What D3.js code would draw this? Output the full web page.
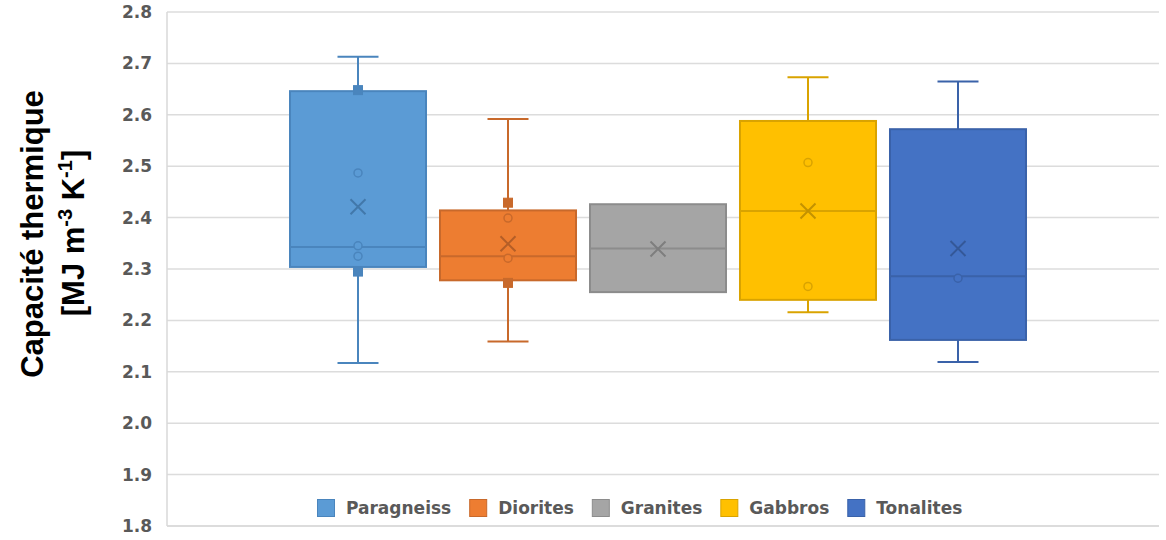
<!DOCTYPE html>
<html>
<head>
<meta charset="utf-8">
<script src="https://cdn.jsdelivr.net/npm/d3@7"></script>
<style>
  html, body { margin: 0; padding: 0; background: #ffffff; }
  svg { display: block; }
</style>
</head>
<body>
<svg id="chart" width="1166" height="540"></svg>
<script>
// Rock types and their box-plot statistics (volumetric heat capacity, MJ m-3 K-1)
const rockTypes    = ["Paragneiss", "Diorites", "Granites", "Gabbros", "Tonalites"];
const minValues    = [2.117, 2.159, 2.255, 2.216, 2.119];
const q1Values     = [2.304, 2.278, 2.255, 2.240, 2.162];
const medianValues = [2.343, 2.325, 2.340, 2.413, 2.286];
const q3Values     = [2.646, 2.414, 2.426, 2.588, 2.572];
const maxValues    = [2.713, 2.592, 2.426, 2.673, 2.665];
const meanValues   = [2.421, 2.349, 2.339, 2.413, 2.340];
// individual measurements drawn as hollow circles
const innerPoints  = [[2.487, 2.345, 2.325], [2.399, 2.321], [], [2.507, 2.266], [2.282]];
// measurements drawn as filled squares
const squarePoints = [[2.648, 2.295], [2.429, 2.273], [], [], []];
const yTicks       = [1.8, 1.9, 2.0, 2.1, 2.2, 2.3, 2.4, 2.5, 2.6, 2.7, 2.8];

const fillColors   = ["#5b9bd5", "#ed7d31", "#a5a5a5", "#ffc000", "#4472c4"];
const lineColors   = ["#4a85bd", "#c8692b", "#8c8c8c", "#d9a300", "#3a62a9"];

const svg = d3.select("#chart");
const plot = { left: 167, right: 1159, top: 12, bottom: 526 };

const y = d3.scaleLinear().domain([1.8, 2.8]).range([plot.bottom, plot.top]);
const x = d3.scaleBand().domain(rockTypes).range([283, 1033])
  .paddingInner(0.0933).paddingOuter(0.0467);

// horizontal gridlines
svg.append("g")
  .selectAll("line")
  .data(yTicks)
  .join("line")
  .attr("x1", plot.left).attr("x2", plot.right)
  .attr("y1", d => y(d)).attr("y2", d => y(d))
  .attr("stroke", "#dcdcdc").attr("stroke-width", 1.5);

// left axis line
svg.append("line")
  .attr("x1", plot.left).attr("x2", plot.left)
  .attr("y1", plot.top).attr("y2", plot.bottom)
  .attr("stroke", "#d9d9d9").attr("stroke-width", 1.5);

// y axis tick labels
const yAxis = d3.axisLeft(y).tickValues(yTicks).tickFormat(d3.format(".1f")).tickSize(0).tickPadding(15);
const yAxisG = svg.append("g").attr("transform", `translate(${plot.left},0)`).call(yAxis);
yAxisG.select(".domain").remove();
yAxisG.selectAll("text")
  .attr("fill", "#595959")
  .style("font-family", "'DejaVu Sans', sans-serif")
  .style("font-weight", "bold")
  .style("font-size", "17px");

// y axis title (two lines, rotated)
svg.append("text")
  .attr("transform", "translate(43,234) rotate(-90)")
  .attr("text-anchor", "middle")
  .style("font-family", "'Liberation Sans', Arial, sans-serif")
  .style("font-weight", "bold")
  .style("font-size", "31px")
  .attr("fill", "#000")
  .text("Capacité thermique");

const title2 = svg.append("text")
  .attr("transform", "translate(84,233) rotate(-90)")
  .attr("text-anchor", "middle")
  .style("font-family", "'Liberation Sans', Arial, sans-serif")
  .style("font-weight", "bold")
  .style("font-size", "31px")
  .attr("fill", "#000");
title2.append("tspan").text("[MJ m");
title2.append("tspan").attr("dy", -12).style("font-size", "20px").text("-3");
title2.append("tspan").attr("dy", 12).text(" K");
title2.append("tspan").attr("dy", -12).style("font-size", "20px").text("-1");
title2.append("tspan").attr("dy", 12).text("]");

// box plots
const capHalf = 20.5;
const boxes = svg.append("g")
  .selectAll("g")
  .data(rockTypes)
  .join("g");

boxes.each(function (name, i) {
  const g = d3.select(this);
  const x0 = x(name), w = x.bandwidth(), cx = x0 + w / 2;
  const stroke = lineColors[i];

  // whiskers
  if (maxValues[i] > q3Values[i]) {
    g.append("line").attr("x1", cx).attr("x2", cx)
      .attr("y1", y(maxValues[i])).attr("y2", y(q3Values[i]))
      .attr("stroke", stroke).attr("stroke-width", 2);
    g.append("line").attr("x1", cx - capHalf).attr("x2", cx + capHalf)
      .attr("y1", y(maxValues[i])).attr("y2", y(maxValues[i]))
      .attr("stroke", stroke).attr("stroke-width", 2);
  }
  if (minValues[i] < q1Values[i]) {
    g.append("line").attr("x1", cx).attr("x2", cx)
      .attr("y1", y(q1Values[i])).attr("y2", y(minValues[i]))
      .attr("stroke", stroke).attr("stroke-width", 2);
    g.append("line").attr("x1", cx - capHalf).attr("x2", cx + capHalf)
      .attr("y1", y(minValues[i])).attr("y2", y(minValues[i]))
      .attr("stroke", stroke).attr("stroke-width", 2);
  }

  // box
  g.append("rect")
    .attr("x", x0).attr("width", w)
    .attr("y", y(q3Values[i])).attr("height", y(q1Values[i]) - y(q3Values[i]))
    .attr("fill", fillColors[i]).attr("stroke", stroke).attr("stroke-width", 2);

  // median
  g.append("line").attr("x1", x0).attr("x2", x0 + w)
    .attr("y1", y(medianValues[i])).attr("y2", y(medianValues[i]))
    .attr("stroke", stroke).attr("stroke-width", 2);

  // square markers
  g.selectAll("rect.sq").data(squarePoints[i]).join("rect").attr("class", "sq")
    .attr("x", cx - 4.5).attr("width", 9)
    .attr("y", d => y(d) - 4.5).attr("height", 9)
    .attr("fill", stroke).attr("stroke", stroke).attr("stroke-width", 1);

  // circle markers
  g.selectAll("circle").data(innerPoints[i]).join("circle")
    .attr("cx", cx).attr("cy", d => y(d)).attr("r", 4)
    .attr("fill", fillColors[i]).attr("stroke", stroke).attr("stroke-width", 1.5);

  // mean marker (X)
  const my = y(meanValues[i]), s = 7.5;
  g.append("path")
    .attr("d", `M${cx - s},${my - s}L${cx + s},${my + s}M${cx - s},${my + s}L${cx + s},${my - s}`)
    .attr("stroke", d3.color(stroke).darker(0.3)).attr("stroke-width", 2).attr("fill", "none");
});

// bottom axis line
svg.append("line")
  .attr("x1", plot.left).attr("x2", plot.right)
  .attr("y1", plot.bottom).attr("y2", plot.bottom)
  .attr("stroke", "#d9d9d9").attr("stroke-width", 1.5);

// legend
const legend = svg.append("g").attr("transform", "translate(317,499)");
let lx = 0;
rockTypes.forEach((name, i) => {
  const item = legend.append("g").attr("transform", `translate(${lx},0)`);
  item.append("rect").attr("x", 0.5).attr("y", 0.5).attr("width", 17).attr("height", 17)
    .attr("fill", fillColors[i]).attr("stroke", lineColors[i]).attr("stroke-width", 1);
  const t = item.append("text").attr("x", 29).attr("y", 15)
    .attr("fill", "#595959")
    .style("font-family", "'DejaVu Sans', sans-serif")
    .style("font-weight", "bold")
    .style("font-size", "17px")
    .text(name);
  lx += 29 + t.node().getComputedTextLength() + 18;
});
</script>
</body>
</html>
